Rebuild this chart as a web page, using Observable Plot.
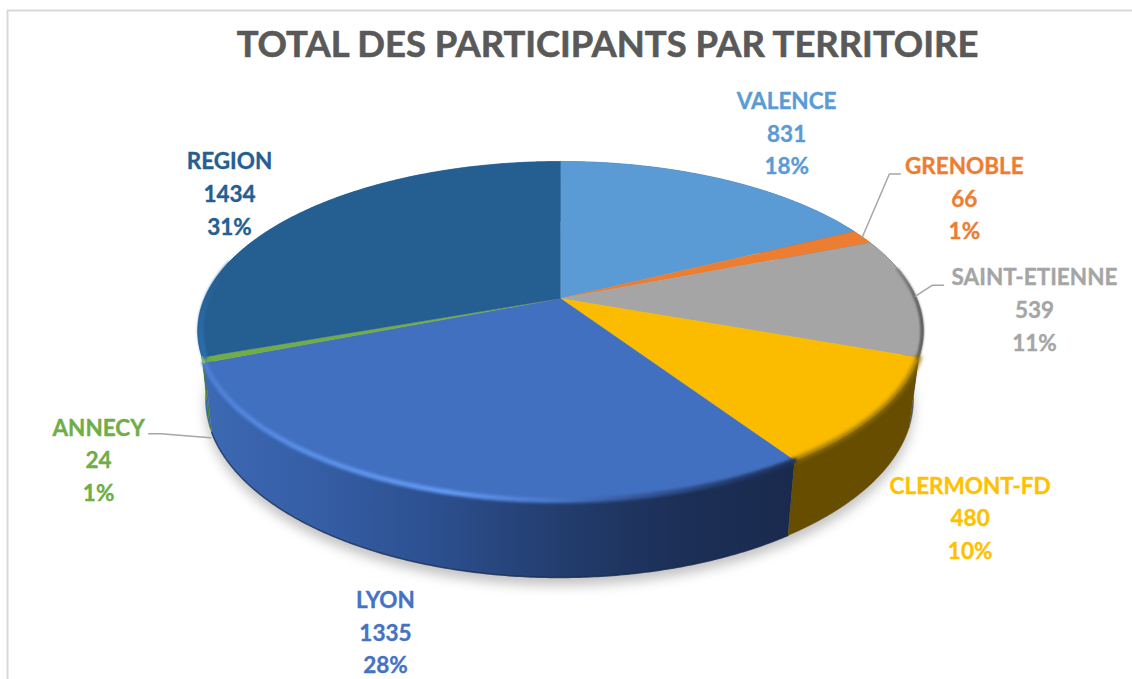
<!DOCTYPE html>
<html>
<head>
<meta charset="utf-8">
<script src="https://cdn.jsdelivr.net/npm/d3@7"></script>
<script src="https://cdn.jsdelivr.net/npm/@observablehq/plot@0.6"></script>
<style>
html,body{margin:0;padding:0;background:#fff;}
svg{display:block;}
</style>
</head>
<body>
<div id="chart"></div>
<script>
const chartTitle = "TOTAL DES PARTICIPANTS PAR TERRITOIRE";
const categories = ["VALENCE","GRENOBLE","SAINT-ETIENNE","CLERMONT-FD","LYON","ANNECY","REGION"];
const values = [831,66,539,480,1335,24,1434];
const percents = ["18%","1%","11%","10%","28%","1%","31%"];
const topColors = ["#5b9bd5","#ed7d31","#a5a5a5","#fbbc00","#4270c0","#70ad47","#255e91"];
const labelColors = ["#5b9bd5","#ed7d31","#a5a5a5","#ffc000","#4472c4","#70ad47","#255e91"];
const sideColors = ["#3a6d9c","#a3561f","#555555","#664d00","url(#lyonSide)","#4a7a2f","#2b6ca8"];
const labelOffsetX = [65,102,119,92,-44,-104.5,-69];
const labelOffsetY = [-48,-41,11,103,141,98,-22];

const W = 1132, H = 679;
const total = d3.sum(values);
const cum = d3.cumsum(values).map(v => v / total);
const starts = [0, ...cum.slice(0, -1)];
const ends = Array.from(cum);

// Perspective view of the pie's two circular faces
const K = 0.1917;
const topFace = {cx:560, cy:298, A:356, B:163.3};
const lowFace = {cx:559, cy:364.8, A:347.4, B:171.5};
function proj(f, face, r = 1) {
  const a = f * 2 * Math.PI;
  const u = r * Math.sin(a), v = -r * Math.cos(a);
  const d = 1 - K * v;
  return {x: face.cx + face.A * u / d, y: face.cy + face.B * v / d};
}
function arc(f0, f1, face, id, r = 1) {
  const n = Math.max(2, Math.ceil((f1 - f0) * 720));
  return d3.range(n + 1).map(i => ({...proj(f0 + (f1 - f0) * i / n, face, r), id}));
}

const tops = categories.flatMap((c, i) => [
  {...proj(0, topFace, 0), id:c, color:topColors[i]},
  ...arc(starts[i], ends[i], topFace, c).map(p => ({...p, color:topColors[i]}))
]);
const side = i => [
  ...arc(starts[i], ends[i], topFace, categories[i]),
  ...arc(starts[i], ends[i], lowFace, categories[i]).reverse()
];
const mids = categories.map((c, i) => proj((starts[i] + ends[i]) / 2, topFace));
const labels = categories.map((c, i) => ({
  text: `${c}\n${values[i]}\n${percents[i]}`,
  x: mids[i].x + labelOffsetX[i],
  y: mids[i].y + labelOffsetY[i],
  color: labelColors[i]
}));

// Leader lines start at the slices' outer edge
const leaderOf = (i, start, bends) => [start, ...bends.map(([dx, dy]) => ({x:start.x + dx, y:start.y + dy}))].map(p => ({...p, id:categories[i]}));
const iG = 1, iS = 2, iA = 5;
const annecyLow = proj((starts[iA] + ends[iA]) / 2, lowFace);
const leaders = [
  ...leaderOf(iG, mids[iG], [[27,-63],[38,-63]]),
  ...leaderOf(iS, mids[iS], [[17,-11],[28,-11]]),
  ...leaderOf(iA, {x:annecyLow.x, y:annecyLow.y + 8}, [[-50,-4],[-62,-4]])
];

const sideMark = (i) => Plot.line(side(i), {x:"x", y:"y", z:"id", fill:sideColors[i], stroke:sideColors[i], strokeWidth:0.5});
const rim = (f0, f1, stroke, strokeWidth, blur, r = 1) => Plot.line(arc(f0, f1, topFace, "rim", r), {
  x:"x", y:"y", stroke, strokeWidth, imageFilter:`blur(${blur}px)`, fill:"none"
});

const plot = Plot.plot({
  width:W, height:H, margin:0,
  x:{domain:[0,W], range:[0,W], axis:null},
  y:{domain:[0,H], range:[0,H], axis:null},
  color:{type:"identity"},
  marks:[
    // frame
    Plot.ruleX([7], {y1:10, y2:H, stroke:"#d9d9d9", strokeWidth:2}),
    Plot.ruleY([10], {x1:7, x2:W, stroke:"#d9d9d9", strokeWidth:2}),
    // ground shadow
    Plot.line(arc(0, 1, {...lowFace, cy:lowFace.cy + 8}, "shadow"), {x:"x", y:"y", fill:"#b4b4b4", fillOpacity:0.8, imageFilter:"blur(6px)"}),
    // outer walls
    ...[6,0,1,2,3,5,4].map(sideMark),
    // lower edge of the front wall
    Plot.line(arc(starts[4], ends[4], lowFace, "edge"), {x:"x", y:"y", stroke:"#182a50", strokeWidth:1.5, strokeOpacity:0.7, imageFilter:"blur(0.6px)"}),
    // upper faces
    Plot.line(tops, {x:"x", y:"y", z:"id", fill:"color", stroke:"color", strokeWidth:0.4}),
    // bevel highlights and shades
    rim(starts[2] + 0.03, ends[2], "url(#greyRim)", 3, 1, 0.997),
    rim(starts[3], ends[3], "#8f6e00", 5, 2),
    rim(starts[4], ends[4], "url(#lyonRim)", 5, 1.6),
    rim(starts[5] + 0.0005, ends[5], "#84c45a", 2.5, 0.6),
    rim(starts[6], starts[6] + 0.09, "url(#regionRim)", 5, 1.4, 0.992),
    // leaders
    Plot.line(leaders, {x:"x", y:"y", z:"id", stroke:"#a6a6a6", strokeWidth:1.5}),
    // labels
    Plot.text(labels, {x:"x", y:"y", text:"text", fill:"color", stroke:"color", strokeWidth:0.35, fontFamily:"Lato", fontWeight:700, fontSize:22.5, lineHeight:1.46, textAnchor:"middle"}),
    Plot.text([chartTitle], {frameAnchor:"top", dx:41, dy:31, fill:"#595959", stroke:"#595959", strokeWidth:0.6, fontFamily:"Lato", fontWeight:700, fontSize:36.4, lineAnchor:"top"})
  ]
});

const grad = (id, stops) => `<linearGradient id="${id}" gradientUnits="userSpaceOnUse" x1="196" y1="0" x2="800" y2="0">${
  stops.map(([o, c]) => `<stop offset="${o}" stop-color="${c}"/>`).join("")}</linearGradient>`;
const defs = document.createElementNS("http://www.w3.org/2000/svg", "defs");
defs.innerHTML =
  grad("lyonSide", [[0,"#3d6ab4"],[0.2,"#355ea6"],[0.4,"#2c4f8e"],[0.6,"#233d6e"],[0.8,"#1c2f56"],[1,"#192a4d"]]) +
  grad("lyonRim", [[0,"#4c7dd3"],[0.15,"#5a8de6"],[0.42,"#649af5"],[0.58,"#4a7bd0"],[0.72,"#35599c"],[0.9,"#22396a"],[1,"#1c2f56"]]) +
  `<linearGradient id="greyRim" gradientUnits="userSpaceOnUse" x1="880" y1="0" x2="925" y2="0"><stop offset="0" stop-color="#a5a5a5"/><stop offset="1" stop-color="#4a4a4a"/></linearGradient>` +
  `<linearGradient id="regionRim" gradientUnits="userSpaceOnUse" x1="0" y1="270" x2="0" y2="345"><stop offset="0" stop-color="#255e91"/><stop offset="1" stop-color="#2c6fae"/></linearGradient>`;
plot.insertBefore(defs, plot.firstChild);
document.getElementById("chart").appendChild(plot);
</script>
</body>
</html>
